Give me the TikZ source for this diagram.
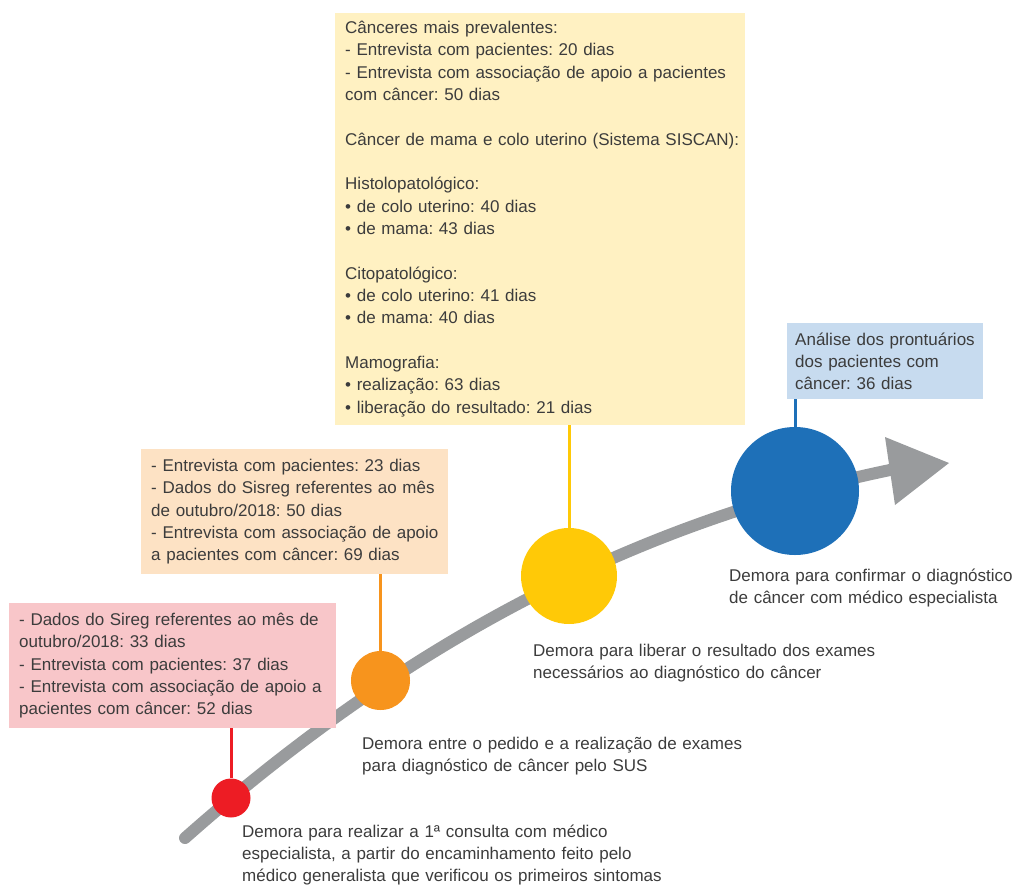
\documentclass[tikz,border=0pt]{standalone}
\usepackage{fontspec}
\setmainfont{Liberation Sans}
\definecolor{textgray}{HTML}{3C3C3C}
\definecolor{linegray}{HTML}{999B9D}
\definecolor{yboxc}{HTML}{FFF1C2}
\definecolor{oboxc}{HTML}{FDE2C4}
\definecolor{pboxc}{HTML}{F8C6C9}
\definecolor{bboxc}{HTML}{C7DBEF}
\definecolor{redc}{HTML}{ED1C24}
\definecolor{orangec}{HTML}{F7941D}
\definecolor{yellowc}{HTML}{FFC907}
\definecolor{bluec}{HTML}{1E70B8}
\newcommand\lnn[1]{\mbox{#1}}
\frenchspacing
\begin{document}
\frenchspacing
\begin{tikzpicture}[x=1pt,y=-1pt,
  txt/.style={font=\fontsize{17}{22.35}\selectfont\frenchspacing, text=textgray},
  infobox/.style={txt, anchor=north west, inner xsep=10pt, inner ysep=0pt, align=left},
  captxt/.style={txt, anchor=base west, inner sep=0pt, align=left, text width=440pt},
  dot/.style={circle, inner sep=0pt, minimum size=#1},
  conn/.style={line width=3pt},
]
\useasboundingbox (0,0) rectangle (1017,886);
% timeline
\coordinate (tstart) at (185,838);
\coordinate (tend) at (890,470);
\coordinate (tip) at (949,463);
\coordinate (hb1) at (885,437);
\coordinate (hb2) at (895,505);
\draw[line width=12pt, linegray, line cap=round] (tstart) .. controls (420,630) and (650,520) .. (tend);
\fill[linegray] (hb1) -- (tip) -- (hb2) -- cycle;
% boxes
\node[infobox, fill=yboxc, text width=390pt, minimum height=412pt] (ybox) at (335,12.7) {%
\lnn{Cânceres mais prevalentes:}\\
\lnn{- Entrevista com pacientes: 20 dias}\\
\lnn{- Entrevista com associação de apoio a pacientes}\\
\lnn{com câncer: 50 dias}\\
\mbox{}\\
\lnn{Câncer de mama e colo uterino (Sistema SISCAN):}\\
\mbox{}\\
\lnn{Histolopatológico:}\\
\lnn{• de colo uterino: 40 dias}\\
\lnn{• de mama: 43 dias}\\
\mbox{}\\
\lnn{Citopatológico:}\\
\lnn{• de colo uterino: 41 dias}\\
\lnn{• de mama: 40 dias}\\
\mbox{}\\
\lnn{Mamografia:}\\
\lnn{• realização: 63 dias}\\
\lnn{• liberação do resultado: 21 dias}};
\node[infobox, fill=oboxc, text width=287pt, minimum height=125pt] (obox) at (141,449) {%
\lnn{- Entrevista com pacientes: 23 dias}\\
\lnn{- Dados do Sisreg referentes ao mês}\\
\lnn{de outubro/2018: 50 dias}\\
\lnn{- Entrevista com associação de apoio}\\
\lnn{a pacientes com câncer: 69 dias}};
\node[infobox, fill=pboxc, text width=307pt, minimum height=125pt] (pbox) at (9,603) {%
\lnn{- Dados do Sireg referentes ao mês de}\\
\lnn{outubro/2018: 33 dias}\\
\lnn{- Entrevista com pacientes: 37 dias}\\
\lnn{- Entrevista com associação de apoio a}\\
\lnn{pacientes com câncer: 52 dias}};
\node[infobox, inner xsep=8pt, fill=bboxc, text width=180pt, minimum height=76pt] (bbox) at (787,323) {%
\lnn{Análise dos prontuários}\\
\lnn{dos pacientes com}\\
\lnn{câncer: 36 dias}};
% circles
\node[dot=39pt, fill=redc] (rcirc) at (231,798) {};
\node[dot=59pt, fill=orangec] (ocirc) at (380.5,680.5) {};
\node[dot=96pt, fill=yellowc] (ycirc) at (569,576) {};
\node[dot=128pt, fill=bluec] (bcirc) at (795,491) {};
% connectors
\draw[conn, redc] (pbox.south -| rcirc) -- (rcirc.north);
\draw[conn, orangec] (obox.south -| ocirc) -- (ocirc.north);
\draw[conn, yellowc] (ybox.south -| ycirc) -- (ycirc.north);
\draw[conn, bluec] (bbox.south -| bcirc) -- (bcirc.north);
% captions
\node[captxt] (rcap) at (242,837) {\lnn{Demora para realizar a 1ª consulta com médico}\\\lnn{especialista, a partir do encaminhamento feito pelo}\\\lnn{médico generalista que verificou os primeiros sintomas}};
\node[captxt] (ocap) at (362,749.5) {\lnn{Demora entre o pedido e a realização de exames}\\\lnn{para diagnóstico de câncer pelo SUS}};
\node[captxt] (ycap) at (533,656.5) {\lnn{Demora para liberar o resultado dos exames}\\\lnn{necessários ao diagnóstico do câncer}};
\node[captxt] (bcap) at (729,581.5) {\lnn{Demora para confirmar o diagnóstico}\\\lnn{de câncer com médico especialista}};
\end{tikzpicture}
\end{document}
